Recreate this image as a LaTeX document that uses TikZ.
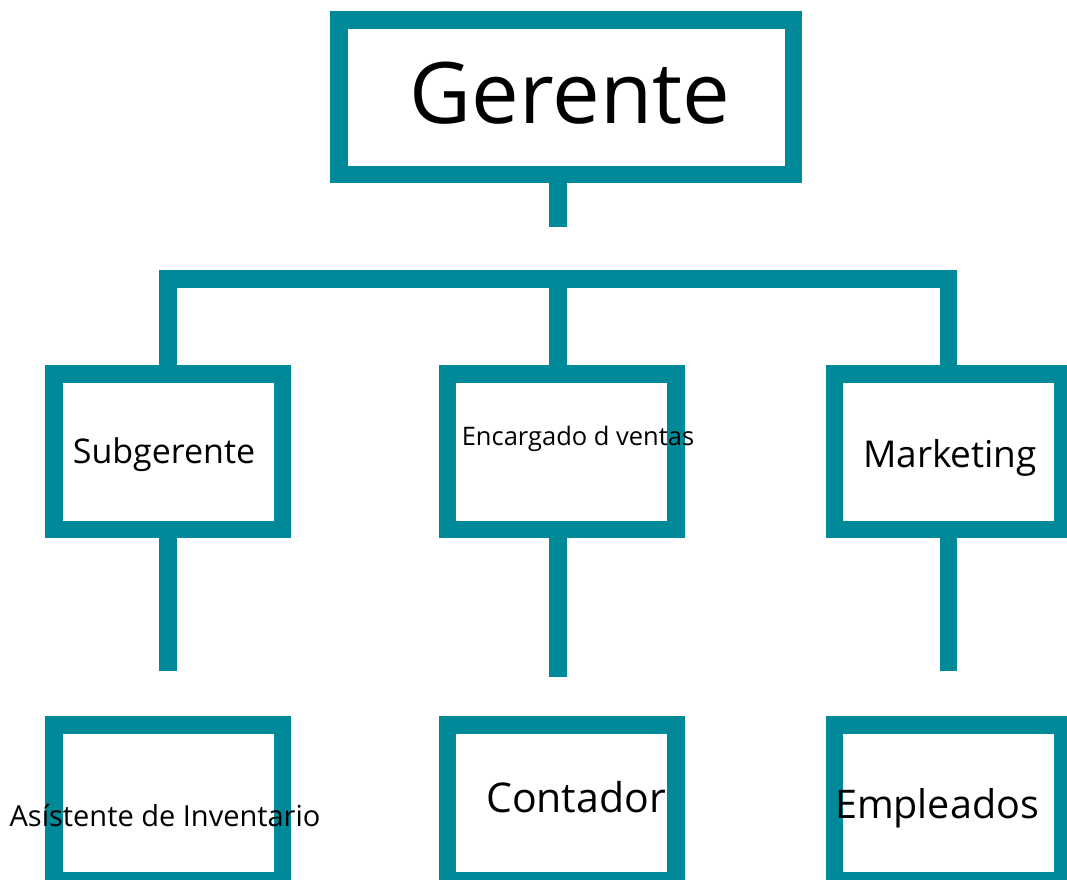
\documentclass[tikz,border=0pt]{standalone}
\usepackage{fontspec}
\setmainfont{Open Sans}
\definecolor{teal1}{RGB}{0,137,153}
\begin{document}
\begin{tikzpicture}[x=1pt,y=-1pt,
  box/.style={draw=teal1,line width=17.5pt,fill=white,rectangle,inner sep=0pt},
  bigbox/.style={box,minimum width=454.5pt,minimum height=154.5pt},
  smallbox/.style={box,minimum width=228.5pt,minimum height=155.5pt},
  conn/.style={draw=teal1,line width=17.5pt},
  lbl/.style={inner sep=0pt,anchor=base,text=black}]
\clip (0,0) rectangle (1067,879);
\fill[white] (0,0) rectangle (1067,879);
% boxes
\node[bigbox] (ger) at (566,97) {};
\node[smallbox] (sub) at (168,451.5) {};
\node[smallbox] (enc) at (561.5,451.5) {};
\node[smallbox] (mkt) at (948.5,451.5) {};
\node[smallbox] (asi) at (168,802.5) {};
\node[smallbox] (con) at (561.5,802.5) {};
\node[smallbox] (emp) at (948.5,802.5) {};
% connectors
\coordinate (gstem) at (558,227);
\coordinate (bar) at (0,279);
\coordinate (subend) at (168,671);
\coordinate (encend) at (558,677);
\coordinate (mktend) at (948.5,671);
\draw[conn] (ger.south -| gstem) -- (gstem);
\draw[conn] (sub.north) -- (sub.north |- bar) -- (mkt.north |- bar) -- (mkt.north);
\draw[conn] (enc.north -| gstem) -- (gstem |- bar);
\draw[conn] (sub.south) -- (subend);
\draw[conn] (enc.south -| encend) -- (encend);
\draw[conn] (mkt.south) -- (mktend);
% labels
\node[lbl,font=\fontsize{85}{85}\selectfont] (tger) at (570,123) {Gerente};
\node[lbl,font=\fontsize{34}{34}\selectfont] (tsub) at (164,463) {Subgerente};
\node[lbl,font=\fontsize{25.5}{25.5}\selectfont] (tenc) at (578,445) {Encargado d ventas};
\node[lbl,font=\fontsize{37}{37}\selectfont] (tmkt) at (950,467) {Marketing};
\node[lbl,font=\fontsize{29}{29}\selectfont] (tasi) at (165,826) {Asístente de Inventario};
\node[lbl,font=\fontsize{41}{41}\selectfont] (tcon) at (576,812) {Contador};
\node[lbl,font=\fontsize{39.5}{39.5}\selectfont] (temp) at (937,818) {Empleados};
\end{tikzpicture}
\end{document}
